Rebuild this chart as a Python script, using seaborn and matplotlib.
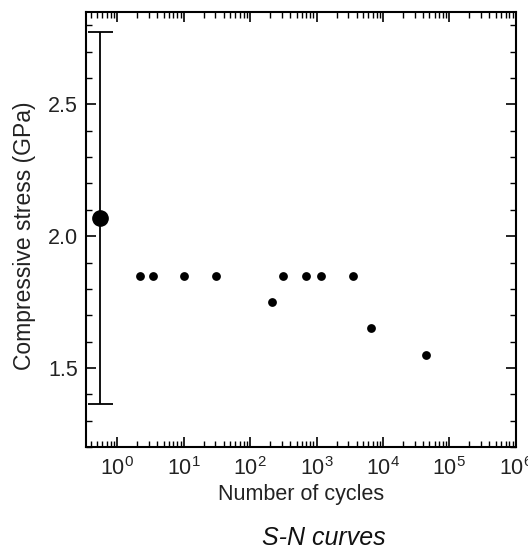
import matplotlib
matplotlib.use("Agg")
import matplotlib.pyplot as plt
from matplotlib.ticker import FixedLocator, MultipleLocator, NullFormatter
import numpy as np
import pandas as pd
import seaborn as sns

sns.set_style("ticks")
plt.rcParams["font.family"] = ["Liberation Sans", "DejaVu Sans"]

# fatigue test points (cycles, stress GPa)
cycles = [2.2, 3.4, 10, 31, 214, 314, 694, 1170, 3540, 6600, 44500]
stress = [1.85, 1.85, 1.85, 1.85, 1.75, 1.85, 1.85, 1.85, 1.85, 1.65, 1.55]

# static strength with scatter band
static_n = [0.55]
static_mean = [2.07]
static_low = [1.364]
static_high = [2.776]

decades = [10.0 ** i for i in range(0, 7)]

df = pd.DataFrame({"cycles": cycles, "stress": stress})

fig = plt.figure(figsize=(5.28, 5.52), dpi=100)
ax = fig.add_axes([0.163, 0.19, 0.814, 0.788])

sns.scatterplot(data=df, x="cycles", y="stress", ax=ax, color="black",
                s=40, edgecolor="black", linewidth=0, zorder=3)

yerr = [[m - l for m, l in zip(static_mean, static_low)],
        [h - m for m, h in zip(static_mean, static_high)]]
ax.errorbar(static_n, static_mean, yerr=yerr, fmt="o", color="black",
            markersize=11, elinewidth=1.3, capsize=9, capthick=1.3, zorder=4)

ax.set_xscale("log")
ax.set_xlim(0.34, 1e6)
ax.set_ylim(1.2, 2.85)

minor = [m * d for d in [0.1] + decades for m in range(2, 10)]
minor = [v for v in minor if 0.34 <= v <= 1e6]
ax.xaxis.set_major_locator(FixedLocator(decades))
ax.xaxis.set_major_formatter(matplotlib.ticker.LogFormatterSciNotation())
ax.xaxis.set_minor_locator(FixedLocator(minor))
ax.xaxis.set_minor_formatter(NullFormatter())
ax.yaxis.set_major_locator(MultipleLocator(0.5))
ax.yaxis.set_minor_locator(MultipleLocator(0.1))
ax.yaxis.set_major_formatter(matplotlib.ticker.FormatStrFormatter("%.1f"))

ax.tick_params(which="both", direction="in", top=True, right=True, colors="black")
ax.tick_params(which="major", length=7, width=1.2, labelsize=15.5, labelcolor="#222222")
ax.tick_params(axis="x", which="major", pad=7)
ax.tick_params(axis="y", which="major", pad=6)
ax.tick_params(which="minor", length=4, width=1.0)
for sp in ax.spines.values():
    sp.set_linewidth(1.5)
    sp.set_color("black")

ax.set_xlabel("Number of cycles", fontsize=15.5, labelpad=3, color="#222222")
ax.set_ylabel("Compressive stress (GPa)", fontsize=16.5, labelpad=6, color="#222222")
ax.yaxis.set_label_coords(-0.116, 0.485)

fig.text(0.614, 0.026, "S-N curves", fontsize=18, style="italic",
         ha="center", va="center", color="#111111")

fig.savefig("out.png", dpi=100)
